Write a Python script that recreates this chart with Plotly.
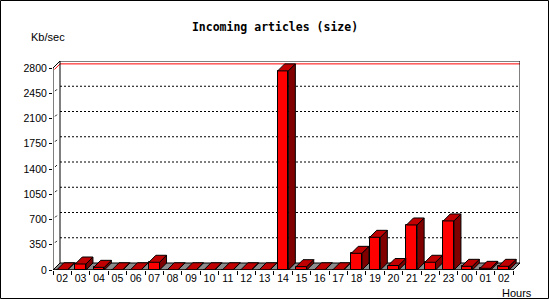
import plotly.graph_objects as go

# ---- data ----
hours = ["02", "03", "04", "05", "06", "07", "08", "09", "10", "11", "12", "13",
         "14", "15", "16", "17", "18", "19", "20", "21", "22", "23", "00", "01", "02"]
kb_per_sec = [3, 83, 37, 3, 3, 107, 3, 3, 3, 3, 3, 3,
              2760, 46, 3, 3, 231, 453, 62, 624, 107, 680, 51, 23, 51]
y_ticks = [0, 350, 700, 1050, 1400, 1750, 2100, 2450, 2800]

# ---- geometry ----
W, H = 550, 300
ML, MR, MT, MB = 53, 30, 61, 30
DEPTH_PX = 7
n = len(hours)
pw = W - ML - MR
ph = H - MT - MB
ppu_x = (pw - DEPTH_PX) / n
ppu_y = (ph - DEPTH_PX) / y_ticks[-1]
dx = DEPTH_PX / ppu_x
dy = DEPTH_PX / ppu_y
bw = 0.58
ymax = y_ticks[-1]
centers = [i + 0.5 for i in range(n)]

FRONT = "#ff0000"
TOP = "#c00000"
SIDE = "#800000"
FLOOR = "#8c8c8c"

fig = go.Figure()

# front faces
fig.add_trace(go.Bar(x=centers, y=kb_per_sec, width=bw,
                     marker=dict(color=FRONT, line=dict(color="black", width=1)),
                     hoverinfo="skip", showlegend=False))

# side and top faces
sx, sy, tx, ty = [], [], [], []
for c, v in zip(centers, kb_per_sec):
    l, r = c - bw / 2, c + bw / 2
    sx += [r, r, r + dx, r + dx, r, None]
    sy += [0, v, v + dy, dy, 0, None]
    tx += [l, l + dx, r + dx, r, l, None]
    ty += [v, v + dy, v + dy, v, v, None]
fig.add_trace(go.Scatter(x=sx, y=sy, mode="lines", fill="toself", fillcolor=SIDE,
                         line=dict(color="black", width=1), hoverinfo="skip", showlegend=False))
fig.add_trace(go.Scatter(x=tx, y=ty, mode="lines", fill="toself", fillcolor=TOP,
                         line=dict(color="black", width=1), hoverinfo="skip", showlegend=False))

shapes = []
# floor
shapes.append(dict(type="path", xref="x", yref="y", layer="below",
                   path=f"M 0 0 L {n} 0 L {n+dx} {dy} L {dx} {dy} Z",
                   fillcolor=FLOOR, line=dict(color="black", width=1)))
# gridlines on back wall
for t in y_ticks[1:-1]:
    shapes.append(dict(type="line", xref="x", yref="y", layer="below",
                       x0=dx, x1=n + dx, y0=t + dy, y1=t + dy,
                       line=dict(color="black", width=1, dash="2px,2px")))
    shapes.append(dict(type="line", xref="x", yref="y", layer="below",
                       x0=0.3 * dx, x1=0.55 * dx, y0=t + 0.3 * dy, y1=t + 0.55 * dy,
                       line=dict(color="black", width=1)))
# max line
vmax = max(kb_per_sec)
shapes.append(dict(type="line", xref="x", yref="y", layer="below",
                   x0=dx, x1=n + dx, y0=vmax + dy, y1=vmax + dy,
                   line=dict(color="red", width=1)))
shapes.append(dict(type="line", xref="x", yref="y", layer="below",
                   x0=0.2 * dx, x1=dx, y0=vmax + 0.2 * dy, y1=vmax + dy,
                   line=dict(color="red", width=1)))
# wall frame
frame = [
    (dx, dy, dx, ymax + dy),
    (dx, ymax + dy, n + dx, ymax + dy),
    (n + dx, ymax + dy, n + dx, dy),
    (0, 0, 0, ymax),
    (0, ymax, dx, ymax + dy),
    (0, 0, n, 0),
]
for x0, y0, x1, y1 in frame:
    shapes.append(dict(type="line", xref="x", yref="y", layer="below",
                       x0=x0, x1=x1, y0=y0, y1=y1, line=dict(color="black", width=1)))
# outer border
def px2paper_x(p):
    return (p - ML) / pw
def px2paper_y(p):
    return (H - MB - p) / ph
shapes.append(dict(type="rect", xref="paper", yref="paper",
                   x0=px2paper_x(0.5), x1=px2paper_x(548.5),
                   y0=px2paper_y(298.5), y1=px2paper_y(0.5),
                   line=dict(color="black", width=1)))

tick_font = dict(family="Liberation Sans", size=10.5, color="black")

fig.update_layout(
    width=W, height=H,
    margin=dict(l=ML, r=MR, t=MT, b=MB),
    paper_bgcolor="white", plot_bgcolor="white",
    shapes=shapes,
    title=dict(text="<b>Incoming articles (size)</b>", x=0.5, xanchor="center",
               y=1 - 26.7 / H, yanchor="middle", yref="container",
               font=dict(family="DejaVu Sans Mono", size=11.5, color="black")),
    xaxis=dict(range=[0, n + dx], tickmode="array", tickvals=centers, ticktext=hours,
               ticks="", showgrid=False, zeroline=False, showline=False,
               tickfont=tick_font, fixedrange=True,
               minor=dict(tickmode="array", tickvals=list(range(n + 1)), ticks="outside",
                          ticklen=4, tickcolor="black", tickwidth=1, showgrid=False)),
    yaxis=dict(range=[0, ymax + dy], tickmode="array", tickvals=y_ticks,
               ticks="outside", ticklen=3, tickcolor="black", tickwidth=1,
               showgrid=False, zeroline=False, showline=False,
               tickfont=tick_font, fixedrange=True),
    annotations=[
        dict(text="Kb/sec", xref="paper", yref="paper", x=px2paper_x(29), y=px2paper_y(36.7),
             xanchor="left", yanchor="middle", showarrow=False,
             font=dict(family="Liberation Sans", size=11, color="black")),
        dict(text="Hours", xref="paper", yref="paper", x=px2paper_x(534), y=px2paper_y(292.5),
             xanchor="right", yanchor="middle", showarrow=False,
             font=dict(family="Liberation Sans", size=11, color="black")),
    ],
    bargap=0,
)

fig.write_html("out.html")
